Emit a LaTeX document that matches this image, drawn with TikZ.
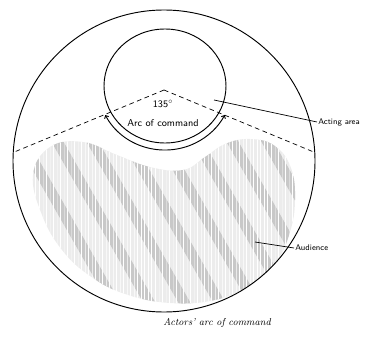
\documentclass[tikz,border=0pt]{standalone}
\usepackage{amsmath}
\usepackage{amssymb}
\usetikzlibrary{arrows.meta,patterns}

\begin{document}
\begin{tikzpicture}[
            x=0.03cm,
            y=-0.03cm,
            wall/.style={
                draw,
                line width=0.8pt
            },
            sightline/.style={
                draw,
                dashed,
                dash pattern=on 4pt off 3pt,
                line width=0.6pt
            },
            leader/.style={
                draw,
                line width=0.6pt
            },
            tag/.style={
                inner sep=1pt,
                font=\sffamily\fontsize{7}{8}\selectfont
            },
            inlabel/.style={
                inner sep=1pt,
                font=\sffamily\fontsize{8.5}{10}\selectfont
            },
            caption/.style={
                inner sep=1pt,
                font=\itshape\fontsize{8.5}{10}\selectfont
            }
        ]
            \useasboundingbox (0,0) rectangle (367,345);
            % audience area
            \begin{scope}
                \clip plot[smooth cycle, tension=0.7] coordinates {
                    (33,175) (50,147) (83,142) (117,155) (150,167) (183,170)
                    (205,157) (225,144) (250,139) (275,146) (291,168) (295,200)
                    (290,232) (276,262) (250,285) (215,300) (170,303) (125,294)
                    (90,276) (62,250) (42,215)
                };
                \fill[gray!15] (0,100) rectangle (367,320);
                \foreach \s in {-60,-25,...,300} {
                    \draw[gray!50, line width=9pt, opacity=0.8]
                        (\s,120) -- (\s+120,330);
                }
                \fill[pattern=vertical lines, pattern color=white] (0,100) rectangle (367,320);
            \end{scope}
            % outer wall and acting area
            \coordinate (hall) at (164,161);
            \coordinate (stage) at (165,86);
            \coordinate (apex) at (164,90);
            \draw[wall] (hall) circle (151);
            \draw[wall] (stage) ellipse (61 and 57);
            \draw[wall, {Straight Barb[length=2pt]}-{Straight Barb[length=2pt]}]
                (stage) ++(153:67 and 64) arc (153:27:67 and 64);
            % sight lines
            \draw[sightline] (apex) -- ++(157.5:163) coordinate (leftend);
            \draw[sightline] (apex) -- ++(22.5:163) coordinate (rightend);
            % labels
            \node[inlabel] (angle) at (163,104) {135$^\circ$};
            \node[inlabel] (arc) at (163,123) {Arc of command};
            \node[tag, anchor=west] (acting) at (317,122) {Acting area};
            \node[tag, anchor=west] (audience) at (294,248) {Audience};
            \coordinate (actingtip) at (214,100);
            \coordinate (audiencetip) at (255,242);
            \draw[leader] (actingtip) -- (acting.west);
            \draw[leader] (audiencetip) -- (audience.west);
            \node[caption] (title) at (217,323) {Actors' arc of command};
        \end{tikzpicture}
\end{document}
